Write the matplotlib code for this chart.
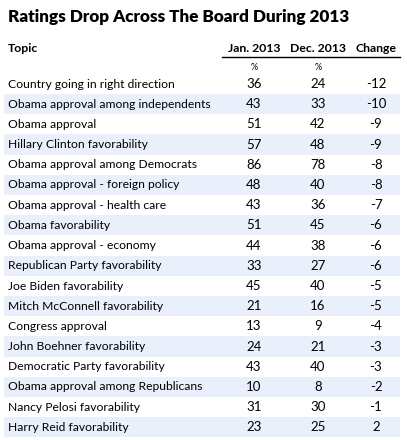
import matplotlib.pyplot as plt
from matplotlib.patches import Rectangle

# Table data
topics = [
    "Country going in right direction",
    "Obama approval among independents",
    "Obama approval",
    "Hillary Clinton favorability",
    "Obama approval among Democrats",
    "Obama approval - foreign policy",
    "Obama approval - health care",
    "Obama favorability",
    "Obama approval - economy",
    "Republican Party favorability",
    "Joe Biden favorability",
    "Mitch McConnell favorability",
    "Congress approval",
    "John Boehner favorability",
    "Democratic Party favorability",
    "Obama approval among Republicans",
    "Nancy Pelosi favorability",
    "Harry Reid favorability",
]
jan_2013 = [36, 43, 51, 57, 86, 48, 43, 51, 44, 33, 45, 21, 13, 24, 43, 10, 31, 23]
dec_2013 = [24, 33, 42, 48, 78, 40, 36, 45, 38, 27, 40, 16, 9, 21, 40, 8, 30, 25]
headers = ["Topic", "Jan. 2013", "Dec. 2013", "Change"]
title = "Ratings Drop Across The Board During 2013"

plt.rcParams['font.family'] = ['Lato', 'DejaVu Sans']

fig = plt.figure(figsize=(4.07, 4.40), dpi=100)
ax = fig.add_axes([0, 0, 1, 1])
ax.set_xlim(0, 407)
ax.set_ylim(440, 0)
ax.axis('off')

# column centres (pixels)
x_topic = 8
x_jan = 254
x_dec = 318
x_chg = 376

ax.text(x_topic, 17, title, fontsize=12.3, fontweight='heavy', va='center', ha='left')

ax.text(x_topic, 49, headers[0], fontsize=8.8, fontweight='bold', va='center', ha='left')
ax.text(x_jan, 49, headers[1], fontsize=8.8, fontweight='bold', va='center', ha='center')
ax.text(x_dec, 49, headers[2], fontsize=8.8, fontweight='bold', va='center', ha='center')
ax.text(x_chg, 49, headers[3], fontsize=8.8, fontweight='bold', va='center', ha='center')
ax.plot([222, 400], [57.5, 57.5], color='black', lw=1)

ax.text(x_jan, 67, "%", fontsize=6.5, va='center', ha='center')
ax.text(x_dec, 67, "%", fontsize=6.5, va='center', ha='center')

y0 = 84
step = 20.2
for i, topic in enumerate(topics):
    y = y0 + i * step
    if i % 2 == 1:
        ax.add_patch(Rectangle((4, y - step / 2), 396, step, color='#eaf0fb', lw=0))
    change = dec_2013[i] - jan_2013[i]
    ax.text(x_topic, y, topic, fontsize=8.7, va='center', ha='left')
    ax.text(x_jan, y, str(jan_2013[i]), fontsize=9.5, va='center', ha='center')
    ax.text(x_dec, y, str(dec_2013[i]), fontsize=9.5, va='center', ha='center')
    ax.text(x_chg, y, str(change), fontsize=9.5, va='center', ha='center')

fig.savefig("out.png", dpi=100)
